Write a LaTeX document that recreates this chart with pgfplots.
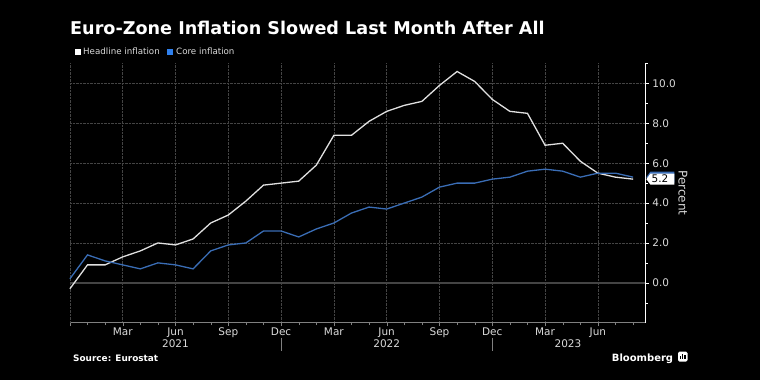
\documentclass[border=0pt]{standalone}
\usepackage{pgfplots}
\pgfplotsset{compat=1.18}
\usepackage{fontspec}
\setmainfont{DejaVu Sans}
\definecolor{head}{HTML}{E0E0E0}
\definecolor{core}{HTML}{3A6DB5}
\definecolor{coreleg}{HTML}{2F80ED}
\definecolor{tickc}{HTML}{DADADA}
\definecolor{gridc}{HTML}{444444}
\begin{document}
\begin{tikzpicture}[x=1pt,y=1pt]
\fill[black] (0,0) rectangle (760,380);
\node[anchor=base west, inner sep=0, text=white, font=\bfseries\fontsize{17.6}{20}\selectfont] at (70,345) {Euro-Zone Inflation Slowed Last Month After All};
\fill[white] (75,325.3) rectangle (81,331.3);
\node[anchor=base west, inner sep=0, text=tickc, font=\fontsize{8.7}{10}\selectfont] at (83,325) {Headline inflation};
\fill[coreleg] (166.7,325.3) rectangle (172.7,331.3);
\node[anchor=base west, inner sep=0, text=tickc, font=\fontsize{8.7}{10}\selectfont] at (176,325) {Core inflation};
\begin{axis}[at={(69.9pt,57.3pt)}, anchor=south west, scale only axis,
  width=575.5pt, height=259.2pt,
  xmin=0, xmax=32.7, ymin=-2, ymax=11,
  axis x line=bottom, axis y line=right, axis line style={-},
  x axis line style={gray, line width=0.8pt}, y axis line style={white},
  xtick={3,6,...,30},
  xticklabels={Mar,Jun,Sep,Dec,Mar,Jun,Sep,Dec,Mar,Jun},
  minor xtick={0,...,32},
  extra x ticks={0}, extra x tick labels={},
  extra x tick style={grid=major},
  x tick style={gray},
  xtick align=outside,
  ytick={0,2,...,10}, minor ytick={-1,1,...,11},
  y tick style={white}, ytick align=outside,
  major tick length=3.5pt, minor tick length=2.5pt,
  xmajorgrids, ymajorgrids,
  major grid style={gridc, densely dotted, line width=0.6pt},
  xticklabel style={font=\fontsize{10.5}{12}\selectfont, text=tickc, yshift=2pt},
  yticklabel style={font=\fontsize{10.5}{12}\selectfont, text=tickc, /pgf/number format/.cd, fixed, fixed zerofill, precision=1, assume math mode=true},
  clip=false,
]
\draw[gridc, line width=1.6pt] (axis cs:0,0) -- (axis cs:32.7,0);
\addplot[head, line width=1.3pt] coordinates {
(0,-0.3) (1,0.9) (2,0.9) (3,1.3) (4,1.6) (5,2.0) (6,1.9) (7,2.2) (8,3.0) (9,3.4) (10,4.1) (11,4.9) (12,5.0) (13,5.1) (14,5.9) (15,7.4) (16,7.4) (17,8.1) (18,8.6) (19,8.9) (20,9.1) (21,9.9) (22,10.6) (23,10.1) (24,9.2) (25,8.6) (26,8.5) (27,6.9) (28,7.0) (29,6.1) (30,5.5) (31,5.3) (32,5.2)
};
\addplot[core, line width=1.3pt] coordinates {
(0,0.2) (1,1.4) (2,1.1) (3,0.9) (4,0.7) (5,1.0) (6,0.9) (7,0.7) (8,1.6) (9,1.9) (10,2.0) (11,2.6) (12,2.6) (13,2.3) (14,2.7) (15,3.0) (16,3.5) (17,3.8) (18,3.7) (19,4.0) (20,4.3) (21,4.8) (22,5.0) (23,5.0) (24,5.2) (25,5.3) (26,5.6) (27,5.7) (28,5.6) (29,5.3) (30,5.5) (31,5.5) (32,5.3)
};
\fill[core] (axis cs:32.7,5.3) ++(1pt,0pt) -- ++(4pt,5.5pt) -- ++(24pt,0pt) -- ++(0pt,-11pt) -- ++(-24pt,0pt) -- cycle;
\fill[white] (axis cs:32.7,5.2) ++(1pt,0pt) -- ++(4pt,5.5pt) -- ++(24pt,0pt) -- ++(0pt,-11pt) -- ++(-24pt,0pt) -- cycle;
\node[anchor=west, inner sep=0, xshift=6pt, text=black, font=\fontsize{10.5}{12}\selectfont] at (axis cs:32.7,5.2) {5.2};
\node[anchor=base, inner sep=0, text=tickc, font=\fontsize{10.5}{12}\selectfont, yshift=-24.3pt] at (axis cs:6,-2) {2021};
\node[anchor=base, inner sep=0, text=tickc, font=\fontsize{10.5}{12}\selectfont, yshift=-24.3pt] at (axis cs:18,-2) {2022};
\node[anchor=base, inner sep=0, text=tickc, font=\fontsize{10.5}{12}\selectfont, yshift=-24.3pt] at (axis cs:28.3,-2) {2023};
\draw[gray] (axis cs:12,-2) ++(0pt,-15pt) -- ++(0pt,-13pt);
\draw[gray] (axis cs:24,-2) ++(0pt,-15pt) -- ++(0pt,-13pt);
\end{axis}
\node[rotate=-90, text=tickc, font=\fontsize{12}{14}\selectfont, inner sep=0] at (683,187) {Percent};
\node[anchor=base west, inner sep=0, text=white, font=\bfseries\fontsize{8.9}{10}\selectfont] at (73,18.3) {Source: Eurostat};
\node[anchor=base west, inner sep=0, text=white, font=\bfseries\fontsize{10}{12}\selectfont] at (611.7,18.3) {Bloomberg};
\fill[white, rounded corners=1.5pt] (678,18.3) rectangle (687.5,28.3);
\fill[black] (680,20.5) rectangle (681.2,24);
\fill[black] (682.2,20.5) rectangle (683.4,26);
\fill[black] (684.4,20.5) rectangle (685.6,25);
\end{tikzpicture}
\end{document}
